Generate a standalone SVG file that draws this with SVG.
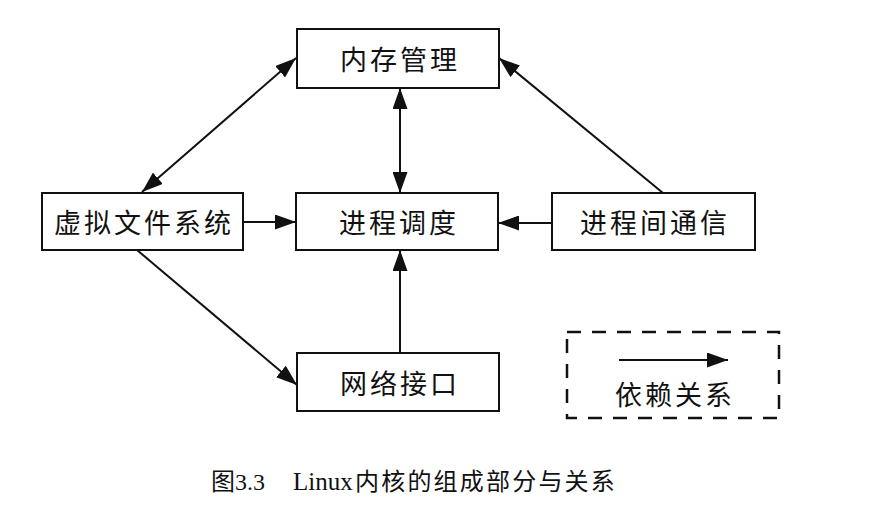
<svg xmlns="http://www.w3.org/2000/svg" width="874" height="515" viewBox="0 0 874 515">
<style>
.box{fill:#fff;stroke:#111;stroke-width:2}
.lbl{font-family:"Noto Sans CJK SC","Noto Sans",sans-serif;font-size:27px;letter-spacing:3px;fill:#111;text-anchor:middle;dominant-baseline:central}
.ln{stroke:#111;stroke-width:2;fill:none}
.cap{font-size:24px;fill:#111}
</style>
<defs>
<marker id="ah" markerUnits="userSpaceOnUse" markerWidth="21" markerHeight="15" refX="21" refY="7.5" orient="auto-start-reverse" viewBox="0 0 21 15">
<path d="M0,0 L21,7.5 L0,15 z" fill="#111"/>
</marker>
</defs>
<rect width="874" height="515" fill="#fff"/>
<g id="connectors">
<line class="ln" x1="142" y1="192" x2="296" y2="58" marker-start="url(#ah)" marker-end="url(#ah)"/>
<line class="ln" x1="663" y1="193" x2="499" y2="58" marker-end="url(#ah)"/>
<line class="ln" x1="400" y1="88" x2="400" y2="193" marker-start="url(#ah)" marker-end="url(#ah)"/>
<line class="ln" x1="243" y1="222" x2="296" y2="222" marker-end="url(#ah)"/>
<line class="ln" x1="552" y1="223" x2="498" y2="223" marker-end="url(#ah)"/>
<line class="ln" x1="137" y1="250" x2="297" y2="385" marker-end="url(#ah)"/>
<line class="ln" x1="400" y1="353" x2="400" y2="250" marker-end="url(#ah)"/>
</g>
<g id="mem">
<rect class="box" x="297" y="29" width="202" height="59"/>
<text class="lbl" x="400" y="58">内存管理</text>
</g>
<g id="vfs">
<rect class="box" x="42" y="193" width="201" height="57"/>
<text class="lbl" x="144" y="221">虚拟文件系统</text>
</g>
<g id="sched">
<rect class="box" x="296" y="193" width="202" height="57"/>
<text class="lbl" x="399" y="221">进程调度</text>
</g>
<g id="ipc">
<rect class="box" x="552" y="193" width="203" height="57"/>
<text class="lbl" x="655" y="221">进程间通信</text>
</g>
<g id="net">
<rect class="box" x="297" y="353" width="202" height="58"/>
<text class="lbl" x="400" y="382">网络接口</text>
</g>
<g id="legend">
<rect x="567" y="332" width="212" height="86" fill="none" stroke="#111" stroke-width="2.5" stroke-dasharray="14,11"/>
<line class="ln" x1="619" y1="360" x2="728" y2="360" marker-end="url(#ah)"/>
<text class="lbl" x="675" y="393">依赖关系</text>
</g>
<g id="caption">
<text class="cap" y="490"><tspan x="211" font-family="Noto Sans CJK SC,sans-serif">图</tspan><tspan font-family="Liberation Serif,serif">3.3</tspan><tspan x="293" font-family="Liberation Serif,serif" font-size="25">Linux</tspan><tspan x="355" font-family="Noto Sans CJK SC,sans-serif" letter-spacing="2.2">内核的组成部分与关系</tspan></text>
</g>
</svg>
